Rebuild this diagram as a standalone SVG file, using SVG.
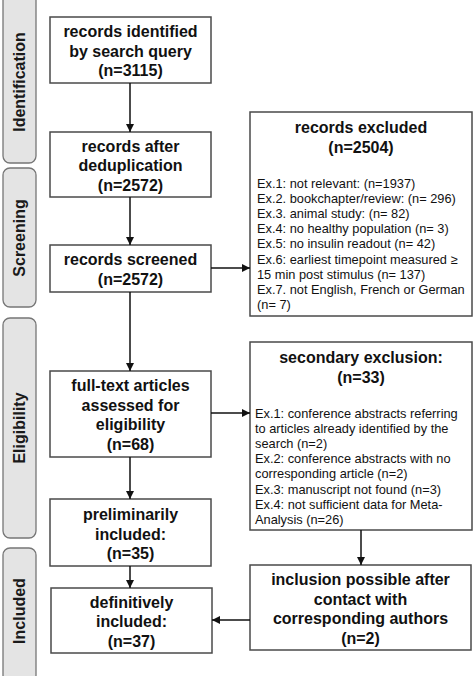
<svg xmlns="http://www.w3.org/2000/svg" width="474" height="676" viewBox="0 0 474 676">
<defs>
<style>
.tab{fill:#e4e4e4;stroke:#767676;stroke-width:1.3}
.tabt{font-family:"Liberation Sans",Arial,sans-serif;font-weight:bold;font-size:16px;fill:#1a1a1a;text-anchor:middle}
.box{fill:#fff;stroke:#4a4a4a;stroke-width:1.5}
.bt{font-family:"Liberation Sans",Arial,sans-serif;font-weight:bold;font-size:16px;fill:#111;text-anchor:middle}
.lt{font-family:"Liberation Sans",Arial,sans-serif;font-size:12.8px;fill:#111}
.con{stroke:#111;stroke-width:1.5;fill:none;marker-end:url(#ah)}
</style>
<marker id="ah" viewBox="0 0 10 10" refX="10" refY="5" markerWidth="8" markerHeight="8" markerUnits="userSpaceOnUse" orient="auto">
<path d="M0,0 L10,5 L0,10 z" fill="#111"/>
</marker>
</defs>
<rect width="474" height="676" fill="#fff"/>

<g id="tab-identification">
<rect class="tab" x="3" y="-8" width="33" height="171" rx="7"/>
<text class="tabt" transform="translate(25,82) rotate(-90)">Identification</text>
</g>
<g id="tab-screening">
<rect class="tab" x="3" y="168" width="33" height="139" rx="7"/>
<text class="tabt" transform="translate(25,238) rotate(-90)">Screening</text>
</g>
<g id="tab-eligibility">
<rect class="tab" x="3" y="318" width="33" height="220" rx="7"/>
<text class="tabt" transform="translate(25,428) rotate(-90)">Eligibility</text>
</g>
<g id="tab-included">
<rect class="tab" x="3" y="548" width="33" height="134" rx="7"/>
<text class="tabt" transform="translate(25,611) rotate(-90)">Included</text>
</g>

<g id="n-identified">
<rect class="box" x="50" y="17" width="161" height="66"/>
<text class="bt" x="130.5" y="37">records identified</text>
<text class="bt" x="130.5" y="56.5">by search query</text>
<text class="bt" x="130.5" y="76">(n=3115)</text>
</g>
<g id="n-dedup">
<rect class="box" x="50" y="132" width="161" height="65"/>
<text class="bt" x="130.5" y="152">records after</text>
<text class="bt" x="130.5" y="171">deduplication</text>
<text class="bt" x="130.5" y="190.5">(n=2572)</text>
</g>
<g id="n-screened">
<rect class="box" x="50" y="245" width="161" height="47"/>
<text class="bt" x="130.5" y="265">records screened</text>
<text class="bt" x="130.5" y="285">(n=2572)</text>
</g>
<g id="n-fulltext">
<rect class="box" x="50" y="371" width="161" height="86"/>
<text class="bt" x="130.5" y="391">full-text articles</text>
<text class="bt" x="130.5" y="410.5">assessed for</text>
<text class="bt" x="130.5" y="430">eligibility</text>
<text class="bt" x="130.5" y="449.5">(n=68)</text>
</g>
<g id="n-prelim">
<rect class="box" x="50" y="499" width="161" height="67"/>
<text class="bt" x="130.5" y="520">preliminarily</text>
<text class="bt" x="130.5" y="539.5">included:</text>
<text class="bt" x="130.5" y="559">(n=35)</text>
</g>
<g id="n-definitive">
<rect class="box" x="51" y="588" width="161" height="65"/>
<text class="bt" x="131.5" y="608">definitively</text>
<text class="bt" x="131.5" y="627">included:</text>
<text class="bt" x="131.5" y="646.5">(n=37)</text>
</g>

<g id="n-excluded">
<rect class="box" x="250" y="112" width="222" height="204"/>
<text class="bt" x="361" y="133">records excluded</text>
<text class="bt" x="361" y="153">(n=2504)</text>
<text class="lt" x="257" y="187.5">Ex.1: not relevant: (n=1937)</text>
<text class="lt" x="257" y="202.7">Ex.2. bookchapter/review: (n= 296)</text>
<text class="lt" x="257" y="217.9">Ex.3. animal study: (n= 82)</text>
<text class="lt" x="257" y="233.1">Ex.4: no healthy population (n= 3)</text>
<text class="lt" x="257" y="248.3">Ex.5: no insulin readout (n= 42)</text>
<text class="lt" x="257" y="263.5">Ex.6: earliest timepoint measured ≥</text>
<text class="lt" x="257" y="278.7">15 min post stimulus (n= 137)</text>
<text class="lt" x="257" y="293.9">Ex.7. not English, French or German</text>
<text class="lt" x="257" y="309.1">(n= 7)</text>
</g>

<g id="n-secondary">
<rect class="box" x="250" y="342" width="222" height="188"/>
<text class="bt" x="361" y="363">secondary exclusion:</text>
<text class="bt" x="361" y="383">(n=33)</text>
<text class="lt" x="255" y="417.5">Ex.1: conference abstracts referring</text>
<text class="lt" x="255" y="432.7">to articles already identified by the</text>
<text class="lt" x="255" y="447.9">search (n=2)</text>
<text class="lt" x="255" y="463.1">Ex.2: conference abstracts with no</text>
<text class="lt" x="255" y="478.3">corresponding article (n=2)</text>
<text class="lt" x="255" y="493.5">Ex.3: manuscript not found (n=3)</text>
<text class="lt" x="255" y="508.7">Ex.4: not sufficient data for Meta-</text>
<text class="lt" x="255" y="523.9">Analysis (n=26)</text>
</g>

<g id="n-contact">
<rect class="box" x="250" y="565" width="221" height="85"/>
<text class="bt" x="360.5" y="585">inclusion possible after</text>
<text class="bt" x="360.5" y="604.5">contact with</text>
<text class="bt" x="360.5" y="624">corresponding authors</text>
<text class="bt" x="360.5" y="643.5">(n=2)</text>
</g>

<g id="connectors">
<line class="con" x1="130" y1="83" x2="130" y2="132"/>
<line class="con" x1="130" y1="197" x2="130" y2="245"/>
<line class="con" x1="130" y1="292" x2="130" y2="371"/>
<line class="con" x1="130" y1="457" x2="130" y2="499"/>
<line class="con" x1="130" y1="566" x2="130" y2="588"/>
<line class="con" x1="211" y1="268" x2="250" y2="268"/>
<line class="con" x1="211" y1="413" x2="250" y2="413"/>
<line class="con" x1="361" y1="530" x2="361" y2="565"/>
<line class="con" x1="250" y1="620" x2="212" y2="620"/>
</g>
</svg>
